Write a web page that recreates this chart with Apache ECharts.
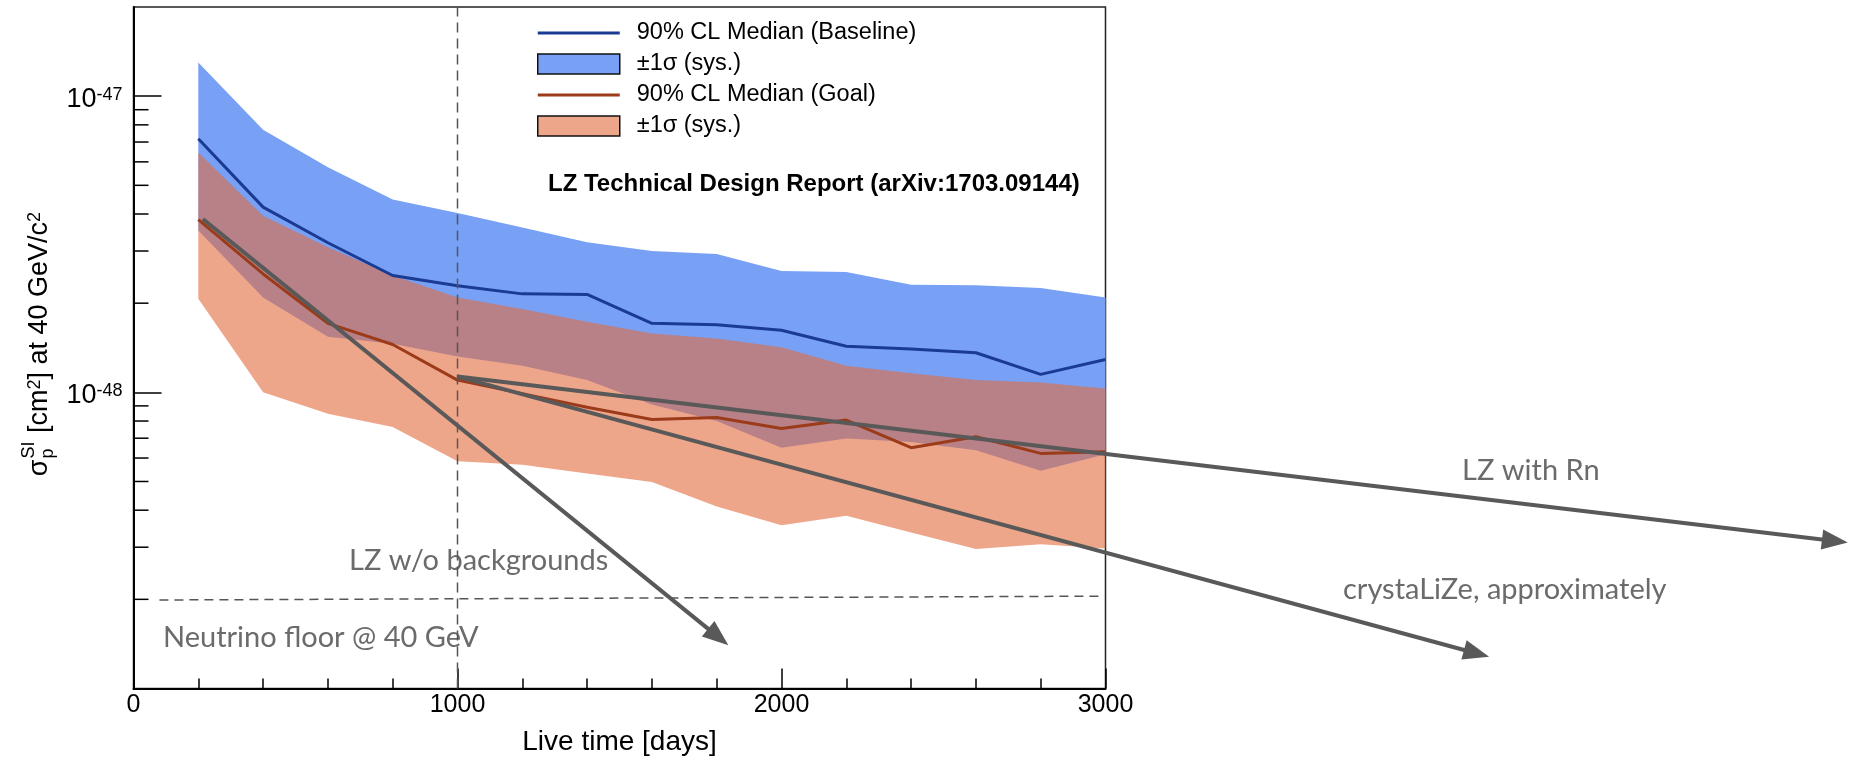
<!DOCTYPE html>
<html>
<head>
<meta charset="utf-8">
<title>LZ projected sensitivity vs live time</title>
<script src="https://cdn.jsdelivr.net/npm/echarts@6/dist/echarts.min.js"></script>
<style>
  html, body { margin: 0; padding: 0; background: #fff; }
  #chart { width: 1852px; height: 760px; }
</style>
</head>
<body>
<div id="chart"></div>
<script>
// live time [days]
const liveTime = [200, 400, 600, 800, 1000, 1200, 1400, 1600, 1800, 2000, 2200, 2400, 2600, 2800, 3000];

// sigma_p^SI [cm^2] at 40 GeV/c^2
const baselineMedian = [7.18e-48, 4.22e-48, 3.2e-48, 2.48e-48, 2.29e-48, 2.15e-48, 2.14e-48, 1.71e-48, 1.69e-48, 1.62e-48, 1.43e-48, 1.40e-48, 1.36e-48, 1.15e-48, 1.29e-48];
const baselineUpper = [1.30e-47, 7.7e-48, 5.75e-48, 4.48e-48, 4.03e-48, 3.6e-48, 3.21e-48, 3.0e-48, 2.93e-48, 2.57e-48, 2.55e-48, 2.31e-48, 2.30e-48, 2.25e-48, 2.09e-48];
const baselineLower = [3.52e-48, 2.09e-48, 1.54e-48, 1.46e-48, 1.32e-48, 1.23e-48, 1.10e-48, 9.1e-49, 8.0e-49, 6.5e-49, 6.98e-49, 6.80e-49, 6.37e-49, 5.43e-49, 6.18e-49];

const goalMedian = [3.83e-48, 2.51e-48, 1.71e-48, 1.45e-48, 1.10e-48, 9.9e-49, 8.9e-49, 8.1e-49, 8.22e-49, 7.55e-49, 8.06e-49, 6.5e-49, 7.08e-49, 6.22e-49, 6.3e-49];
const goalUpper = [6.45e-48, 3.95e-48, 3.09e-48, 2.48e-48, 2.09e-48, 1.91e-48, 1.73e-48, 1.58e-48, 1.52e-48, 1.42e-48, 1.23e-48, 1.16e-48, 1.10e-48, 1.08e-48, 1.03e-48];
const goalLower = [2.07e-48, 1.0e-48, 8.47e-49, 7.64e-49, 5.85e-49, 5.7e-49, 5.32e-49, 4.98e-49, 4.12e-49, 3.56e-49, 3.83e-49, 3.36e-49, 2.96e-49, 3.07e-49, 2.97e-49];

// reference lines
const cutLine = [[1000, 1e-49], [1000, 2e-47]];
const neutrinoFloor = [[80, 1.99e-49], [2985, 2.05e-49]];

// hand-drawn projection arrows: LZ w/o backgrounds, crystaLiZe, LZ with Rn
const arrowFrom = [[214, 3.85e-48], [1000, 1.13e-48], [1000, 1.13e-48]];
const arrowTo = [[1836, 1.40e-49], [4184, 1.28e-49], [5291, 3.11e-49]];

// log axis minor ticks
const yMinorTicks = [2e-49, 3e-49, 4e-49, 5e-49, 6e-49, 7e-49, 8e-49, 9e-49,
  2e-48, 3e-48, 4e-48, 5e-48, 6e-48, 7e-48, 8e-48, 9e-48];

const legendLabels = {
  'Baseline median': '90% CL Median (Baseline)',
  'Baseline band': '\u00b11\u03c3 (sys.)',
  'Goal median': '90% CL Median (Goal)',
  'Goal band': '\u00b11\u03c3 (sys.)'
};

const FONT = '"Liberation Sans", Arial, Helvetica, sans-serif';
const NOTE_FONT = 'Lato, "Open Sans", sans-serif';
const blueBand = 'rgb(120,161,245)';
const goalBand = 'rgba(227,107,62,0.6)';
const blueLine = '#1b3a93';
const brownLine = '#9b3b1a';
const arrowColor = '#595959';
const noteColor = '#6b6b6b';
const lineIcon = 'path://M0,0L82,0L82,0.01ZM0,8.5L82,8.5L82,11.5L0,11.5ZM0,20L82,20L82,19.99Z';

const pairs = (xs, ys) => xs.map((x, i) => [x, ys[i]]);
const bandRows = (lo, hi) => liveTime.map((x, i) => [x, lo[i], hi[i]]);

// width of text pieces for the rotated y title
const ctx = document.createElement('canvas').getContext('2d');
function textWidth(t, size) {
  ctx.font = size + 'px ' + FONT;
  return ctx.measureText(t).width;
}

var myChart = echarts.init(document.getElementById('chart'));

// y title: sigma_p^SI [cm^2] at 40 GeV/c^2, stacked sub/sup after sigma
const tSize = 27, sSize = 18;
const wSigma = textWidth('\u03c3', tSize);
const wStack = textWidth('SI', sSize) + 2;
const wTail = textWidth(' [cm', tSize) + textWidth('2', sSize) + textWidth('] at 40 GeV/c', tSize) + textWidth('2', sSize);
const x0 = -(wSigma + wStack + wTail) / 2;

function note(text, left, y, font, color) {
  return {
    type: 'text', x: left, y: y, silent: true,
    style: { text: text, font: font, fill: color, textAlign: 'left', textVerticalAlign: 'middle' }
  };
}

// one polygon per band: upper edge left->right, lower edge back
function renderBand(params, api) {
  if (params.dataIndexInside !== 0) return null;
  const n = params.dataInsideLength;
  const top = [], bottom = [];
  for (let j = 0; j < n; j++) {
    top.push(api.coord([api.value(0, j), api.value(2, j)]));
    bottom.push(api.coord([api.value(0, j), api.value(1, j)]));
  }
  return {
    type: 'polygon',
    shape: { points: top.concat(bottom.reverse()) },
    style: { fill: api.visual('color') }
  };
}

const option = {
  animation: false,
  backgroundColor: '#fff',
  grid: {
    left: 133.5, right: 746.5, top: 7, bottom: 71.5,
    show: true, borderColor: '#222', borderWidth: 1.5,
    containLabel: false, outerBoundsMode: 'none'
  },
  legend: {
    orient: 'vertical', left: 537, top: 21, padding: 0,
    itemWidth: 82, itemHeight: 20, itemGap: 7,
    selectedMode: false,
    textStyle: { fontSize: 23.5, fontFamily: FONT, color: '#000', lineHeight: 20, padding: [0, 0, 0, 12] },
    formatter: name => legendLabels[name],
    data: [
      { name: 'Baseline median', icon: lineIcon, itemStyle: { borderWidth: 0 } },
      { name: 'Baseline band', icon: 'rect', itemStyle: { borderColor: '#111', borderWidth: 1.5 } },
      { name: 'Goal median', icon: lineIcon, itemStyle: { borderWidth: 0 } },
      { name: 'Goal band', icon: 'rect', itemStyle: { borderColor: '#111', borderWidth: 1.5 } }
    ]
  },
  xAxis: {
    type: 'value', min: 0, max: 3000, interval: 1000,
    name: 'Live time [days]', nameLocation: 'middle', nameGap: 40,
    nameTextStyle: { fontSize: 28, fontFamily: FONT, color: '#000' },
    axisLine: { lineStyle: { color: '#000', width: 2 } },
    axisTick: { inside: true, length: 20, lineStyle: { color: '#000', width: 1.5 } },
    minorTick: { show: true, splitNumber: 5, length: 10, lineStyle: { color: '#000', width: 1.5 } },
    axisLabel: { fontSize: 25, fontFamily: FONT, color: '#000', margin: 4, formatter: v => String(v) },
    splitLine: { show: false }
  },
  yAxis: {
    type: 'log', logBase: 10, min: 1e-49, max: 2e-47, splitNumber: 2,
    axisLine: { show: true, lineStyle: { color: '#000', width: 2 } },
    axisTick: { show: true, inside: true, length: 28, lineStyle: { color: '#000', width: 1.5 } },
    axisLabel: {
      margin: 11, showMaxLabel: false, padding: [6, 0, 0, 0],
      formatter: function (v) {
        const e = Math.round(Math.log10(v));
        if (Math.abs(Math.log10(v) - e) > 1e-6) return '';
        return '{b|10}{e|' + e + '}';
      },
      rich: {
        b: { fontSize: 27, fontFamily: FONT, color: '#000' },
        e: { fontSize: 18, fontFamily: FONT, color: '#000', verticalAlign: 'top' }
      }
    },
    splitLine: { show: false }
  },
  graphic: [
    {
      type: 'group', x: 40, y: 344, rotation: Math.PI / 2, silent: true,
      children: [
        { type: 'text', x: x0, y: 0, style: { text: '\u03c3', font: tSize + 'px ' + FONT, fill: '#000', textAlign: 'left', textVerticalAlign: 'middle' } },
        { type: 'text', x: x0 + wSigma + 1, y: 8, style: { text: 'p', font: sSize + 'px ' + FONT, fill: '#000', textAlign: 'left', textVerticalAlign: 'middle' } },
        { type: 'text', x: x0 + wSigma + 1, y: -11, style: { text: 'SI', font: sSize + 'px ' + FONT, fill: '#000', textAlign: 'left', textVerticalAlign: 'middle' } },
        {
          type: 'text', x: x0 + wSigma + wStack, y: 0,
          style: {
            text: '{b| [cm}{s|2}{b|] at 40 GeV/c}{s|2}', textAlign: 'left', textVerticalAlign: 'middle',
            rich: {
              b: { fontSize: tSize, fontFamily: FONT, fill: '#000' },
              s: { fontSize: sSize, fontFamily: FONT, fill: '#000', verticalAlign: 'top' }
            }
          }
        }
      ]
    },
    note('LZ Technical Design Report (arXiv:1703.09144)', 548, 184, 'bold 24px ' + FONT, '#000'),
    note('LZ w/o backgrounds', 349, 561, '29px ' + NOTE_FONT, noteColor),
    note('Neutrino floor @ 40 GeV', 163, 638, '29px ' + NOTE_FONT, noteColor),
    note('LZ with Rn', 1462, 471, '29px ' + NOTE_FONT, noteColor),
    note('crystaLiZe, approximately', 1343, 590, '29px ' + NOTE_FONT, noteColor)
  ],
  series: [
    {
      name: 'Baseline band', type: 'custom', silent: true, clip: true,
      itemStyle: { color: blueBand },
      encode: { x: 0, y: [1, 2] },
      data: bandRows(baselineLower, baselineUpper),
      renderItem: renderBand
    },
    {
      name: 'Goal band', type: 'custom', silent: true, clip: true,
      itemStyle: { color: goalBand },
      encode: { x: 0, y: [1, 2] },
      data: bandRows(goalLower, goalUpper),
      renderItem: renderBand
    },
    {
      name: 'Baseline median', type: 'line', symbol: 'none', silent: true,
      lineStyle: { color: blueLine, width: 3 }, itemStyle: { color: blueLine },
      data: pairs(liveTime, baselineMedian)
    },
    {
      name: 'Goal median', type: 'line', symbol: 'none', silent: true,
      lineStyle: { color: brownLine, width: 3 }, itemStyle: { color: brownLine },
      data: pairs(liveTime, goalMedian)
    },
    {
      name: 'cut', type: 'line', symbol: 'none', silent: true,
      lineStyle: { color: '#555', width: 1.5, type: [10, 6] }, data: cutLine
    },
    {
      name: 'floor', type: 'line', symbol: 'none', silent: true,
      lineStyle: { color: '#555', width: 1.5, type: [9, 6] }, data: neutrinoFloor
    },
    {
      name: 'minorTicks', type: 'custom', silent: true, clip: false,
      data: yMinorTicks.map(v => [0, v]),
      renderItem: function (params, api) {
        const p = api.coord([api.value(0), api.value(1)]);
        return { type: 'line', shape: { x1: p[0], y1: p[1], x2: p[0] + 15, y2: p[1] }, style: { stroke: '#000', lineWidth: 1.5 } };
      }
    },
    {
      name: 'arrows', type: 'custom', silent: true, clip: false, z: 5,
      data: arrowFrom.map((f, i) => [f[0], f[1], arrowTo[i][0], arrowTo[i][1]]),
      encode: { x: [0, 2], y: [1, 3] },
      renderItem: function (params, api) {
        const p0 = api.coord([api.value(0), api.value(1)]);
        const p1 = api.coord([api.value(2), api.value(3)]);
        const dx = p1[0] - p0[0], dy = p1[1] - p0[1];
        const len = Math.sqrt(dx * dx + dy * dy);
        const ux = dx / len, uy = dy / len;
        const headL = 26, headW = 10;
        const bx = p1[0] - ux * headL, by = p1[1] - uy * headL;
        return {
          type: 'group',
          children: [
            { type: 'line', shape: { x1: p0[0], y1: p0[1], x2: bx + ux * 2, y2: by + uy * 2 }, style: { stroke: arrowColor, lineWidth: 4 } },
            {
              type: 'polygon',
              shape: { points: [[p1[0], p1[1]], [bx - uy * headW, by + ux * headW], [bx + uy * headW, by - ux * headW]] },
              style: { fill: arrowColor }
            }
          ]
        };
      }
    }
  ]
};

myChart.setOption(option);
</script>
</body>
</html>
